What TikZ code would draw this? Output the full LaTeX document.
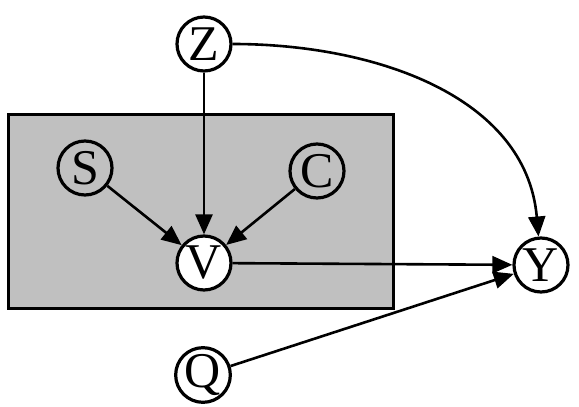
\documentclass[tikz,border=0pt]{standalone}
\usepackage{fontspec}
\setmainfont{Liberation Serif}
\usetikzlibrary{arrows.meta}
\definecolor{boxgray}{RGB}{192,192,192}
\begin{document}
\begin{tikzpicture}[x=1pt,y=1pt,
	var/.style={circle,draw,line width=3.2pt,fill=white,minimum size=54pt,inner sep=0pt,font=\fontsize{50}{50}\selectfont},
	inner/.style={var,fill=boxgray},
	edge/.style={line width=2.6pt,-{Triangle[length=20pt,width=17pt]}}]
\useasboundingbox (0,0) rectangle (579,407);
\draw[fill=boxgray, line width=3pt] (8,98) rectangle (393,292);
\node[var] (z) at (204,363) {Z};
\node[inner] (s) at (85,239) {S};
\node[inner] (c) at (317,236) {C};
\node[var] (v) at (204,144) {V};
\node[var] (y) at (541,142) {Y};
\node[var] (q) at (203,32) {Q};
\draw[edge] (z) -- (v);
\draw[edge] (s) -- (v);
\draw[edge] (c) -- (v);
\draw[edge] (v) -- (y);
\draw[edge] (q) -- (y);
\draw[edge] (z) to[out=0,in=95] (y);
\end{tikzpicture}
\end{document}
